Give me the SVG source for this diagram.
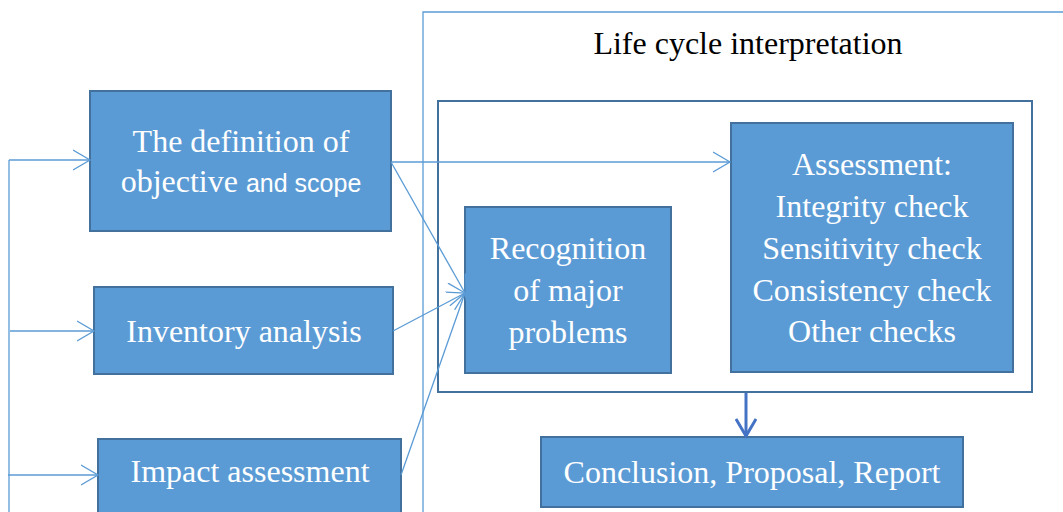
<svg xmlns="http://www.w3.org/2000/svg" width="1063" height="512" viewBox="0 0 1063 512">
  <style>
    .box { fill: #5b9bd5; stroke: #41719c; stroke-width: 2; }
    .frame { fill: none; stroke: #41719c; stroke-width: 2; }
    .outer { fill: none; stroke: #5b9bd5; stroke-width: 1.3; }
    .lbl { font-family: "Liberation Serif", "Times New Roman", serif; font-size: 32px; fill: #ffffff; text-anchor: middle; }
    .sans { font-family: "Liberation Sans", Arial, sans-serif; font-size: 25px; }
    .title { font-family: "Liberation Serif", "Times New Roman", serif; font-size: 32px; fill: #000000; text-anchor: middle; }
    .conn { fill: none; stroke: #5b9bd5; stroke-width: 1.3; }
    .main { fill: none; stroke: #4472c4; stroke-width: 3; }
  </style>
  <defs>
    <!-- open V arrowhead for the thin connectors -->
    <marker id="open" markerWidth="20" markerHeight="22" refX="17" refY="11" orient="auto" markerUnits="userSpaceOnUse">
      <path d="M0,1 L17,11 L0,21" fill="none" stroke="#5b9bd5" stroke-width="1.3"/>
    </marker>
    <!-- heavier arrowhead pointing down to the conclusion box -->
    <marker id="openBold" markerWidth="22" markerHeight="22" refX="11" refY="19" orient="0" markerUnits="userSpaceOnUse">
      <path d="M1,2 L11,19 L21,2" fill="none" stroke="#4472c4" stroke-width="3"/>
    </marker>
  </defs>

  <!-- interpretation frame -->
  <g id="interpretation">
    <path class="outer" d="M423,512 L423,12 L1063,12"/>
    <text class="title" x="748" y="54">Life cycle interpretation</text>
    <rect class="frame" x="438" y="101" width="594" height="291"/>
  </g>

  <!-- phase boxes -->
  <g id="goal-scope">
    <rect class="box" x="90" y="91" width="301" height="140"/>
    <text class="lbl" x="241" y="152">The definition of</text>
    <text class="lbl" x="241" y="192">objective <tspan class="sans">and scope</tspan></text>
  </g>
  <g id="inventory">
    <rect class="box" x="94" y="287" width="299" height="87"/>
    <text class="lbl" x="244" y="342">Inventory analysis</text>
  </g>
  <g id="impact">
    <rect class="box" x="98" y="439" width="303" height="80"/>
    <text class="lbl" x="250" y="482">Impact assessment</text>
  </g>
  <g id="recognition">
    <rect class="box" x="465" y="207" width="206" height="166"/>
    <text class="lbl" x="568" y="259">Recognition</text>
    <text class="lbl" x="568" y="301">of major</text>
    <text class="lbl" x="568" y="343">problems</text>
  </g>
  <g id="assessment">
    <rect class="box" x="731" y="123" width="282" height="249"/>
    <text class="lbl" x="872" y="175">Assessment:</text>
    <text class="lbl" x="872" y="217">Integrity check</text>
    <text class="lbl" x="872" y="259">Sensitivity check</text>
    <text class="lbl" x="872" y="301">Consistency check</text>
    <text class="lbl" x="872" y="342">Other checks</text>
  </g>
  <g id="conclusion">
    <rect class="box" x="541" y="437" width="422" height="70"/>
    <text class="lbl" x="752" y="483">Conclusion, Proposal, Report</text>
  </g>

  <!-- connectors -->
  <g id="connectors">
    <path class="conn" d="M9,512 L9,160"/>
    <path class="conn" d="M9,160 L90,160" marker-end="url(#open)"/>
    <path class="conn" d="M10,331 L94,331" marker-end="url(#open)"/>
    <path class="conn" d="M8,475 L98,475" marker-end="url(#open)"/>
    <path class="conn" d="M391,162 L730,162" marker-end="url(#open)"/>
    <path class="conn" d="M391,162 L465,293" marker-end="url(#open)"/>
    <path class="conn" d="M393,331 L465,293" marker-end="url(#open)"/>
    <path class="conn" d="M401,475 L465,293" marker-end="url(#open)"/>
    <path class="main" d="M746,393 L746,436" marker-end="url(#openBold)"/>
  </g>
</svg>
